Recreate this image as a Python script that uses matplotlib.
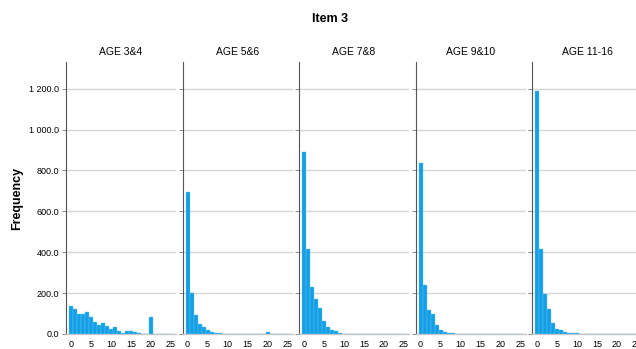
import numpy as np
import matplotlib
matplotlib.use("Agg")
from matplotlib import pyplot as plt
from matplotlib.ticker import FuncFormatter

plt.rcParams['font.family'] = ['Liberation Sans', 'DejaVu Sans']

panels = ['AGE 3&4', 'AGE 5&6', 'AGE 7&8', 'AGE 9&10', 'AGE 11-16']
scores = np.arange(0, 26)

age_3_4 = [139, 123, 98, 98, 107, 85, 61, 44, 52, 41, 25, 33, 13, 3, 15, 15,
           10, 5, 2, 0, 84, 2, 1, 0, 0, 1]
age_5_6 = [695, 201, 92, 49, 33, 20, 11, 6, 3, 2, 1, 1, 1, 0, 0, 0,
           0, 0, 0, 1, 8, 0, 0, 0, 0, 0]
age_7_8 = [890, 418, 230, 172, 126, 66, 33, 21, 13, 3, 2, 1, 1, 0, 0, 0,
           0, 0, 0, 0, 0, 0, 0, 0, 0, 0]
age_9_10 = [836, 238, 118, 98, 46, 21, 8, 5, 3, 1, 1, 0, 0, 0, 0, 0,
            0, 0, 0, 0, 0, 0, 0, 0, 0, 0]
age_11_16 = [1188, 418, 197, 123, 54, 25, 18, 11, 7, 5, 3, 2, 2, 1, 1, 1,
             0, 0, 0, 0, 0, 0, 0, 0, 0, 0]
series = [age_3_4, age_5_6, age_7_8, age_9_10, age_11_16]

yticks = [0, 200, 400, 600, 800, 1000, 1200]
xticks = [0, 5, 10, 15, 20, 25]

bar_color = '#129fe6'

fig = plt.figure(figsize=(6.36, 3.49), dpi=100)
fig.text(0.519, 0.945, 'Item 3', ha='center', va='center',
         fontsize=9, fontweight='bold')
fig.text(0.027, 0.43, 'Frequency', ha='center', va='center', rotation=90,
         fontsize=9, fontweight='bold')

# SPSS style: space as thousands separator, one decimal
fmt = FuncFormatter(lambda v, p: '{:,.1f}'.format(v).replace(',', ' '))

for i, (name, vals) in enumerate(zip(panels, series)):
    left = (66 + 116.5 * i) / 636
    ax = fig.add_axes([left, 0.043, 110 / 636, 0.779])
    ax.bar(scores, vals, width=1.0, color=bar_color, edgecolor='#6cc4ef',
           linewidth=0.3, zorder=3)
    ax.set_xlim(-1.25, 26.25)
    ax.set_ylim(0, 1330)
    ax.set_yticks(yticks)
    ax.set_xticks(xticks)
    ax.grid(axis='y', color='#d6d6d6', linewidth=1.0, zorder=0)
    ax.spines['top'].set_visible(False)
    ax.spines['right'].set_visible(False)
    ax.spines['left'].set_color('#555555')
    ax.spines['left'].set_linewidth(0.8)
    ax.spines['bottom'].set_color('#c8c8c8')
    ax.spines['bottom'].set_linewidth(1.0)
    ax.tick_params(axis='x', length=0, labelsize=6.5, pad=4)
    ax.tick_params(axis='y', length=3, width=0.6, color='#777777',
                   labelsize=6.5, pad=2)
    if i == 0:
        ax.yaxis.set_major_formatter(fmt)
    else:
        ax.set_yticklabels([])
    ax.set_title(name, fontsize=7.5, pad=5)

fig.savefig('out.png', dpi=100)
